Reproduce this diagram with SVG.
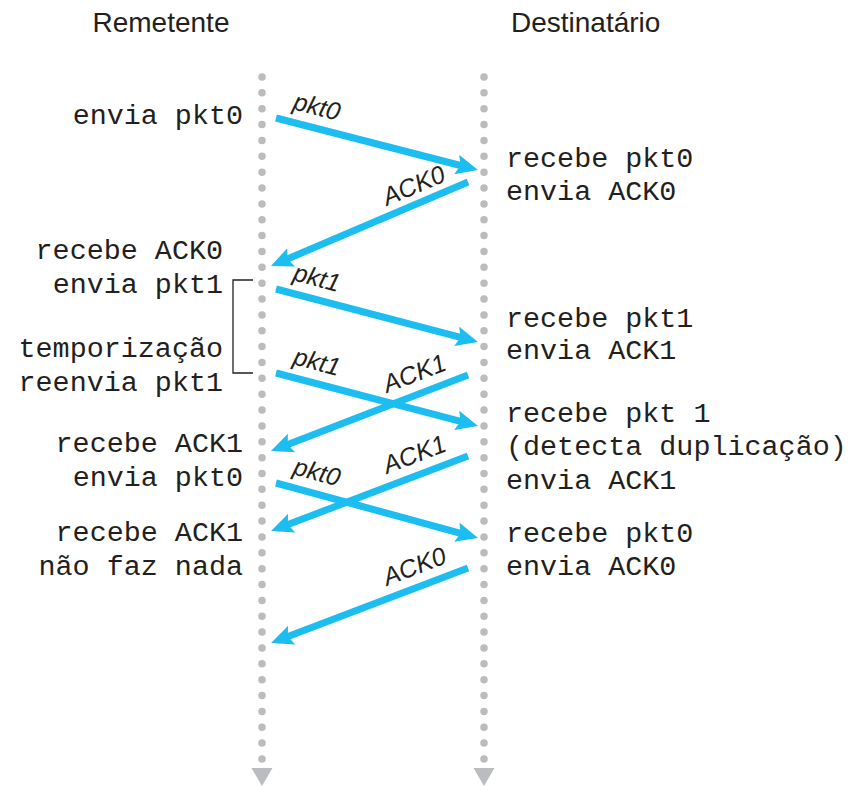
<svg xmlns="http://www.w3.org/2000/svg" width="856" height="787" viewBox="0 0 856 787">
<defs>
<style>
.title{font-family:"Liberation Sans",Arial,sans-serif;font-size:28px;fill:#231f20}
.mono{font-family:"Liberation Mono","Courier New",monospace;font-size:28.4px;fill:#231f20}
.lab{font-family:"Liberation Sans",Arial,sans-serif;font-size:25px;font-style:italic;fill:#231f20}
.life{stroke:#bbbcbf;stroke-width:7.5;stroke-linecap:round;stroke-dasharray:0 15.86;fill:none}
.tri{fill:#bbbcbf}
.arr{stroke:#1cbdf0;stroke-width:7;fill:none;marker-end:url(#ah)}
.br{stroke:#231f20;stroke-width:1.3;fill:none}
</style>
<marker id="ah" markerUnits="userSpaceOnUse" markerWidth="22" markerHeight="20" viewBox="0 0 22 20" refX="6" refY="10" orient="auto">
<path d="M0,0 L22,10 L0,20 L4,10 z" fill="#1cbdf0"/>
</marker>
</defs>
<rect width="856" height="787" fill="#ffffff"/>
<g id="remetente">
<text class="title" x="92.5" y="32">Remetente</text>
<line class="life" x1="262" y1="77" x2="262" y2="759"/>
<polygon class="tri" points="251.5,768 272.5,768 262,786"/>
<text class="mono" text-anchor="end" x="243" y="124">envia pkt0</text>
<text class="mono" text-anchor="end" x="223" y="259">recebe ACK0</text>
<text class="mono" text-anchor="end" x="223" y="293">envia pkt1</text>
<text class="mono" text-anchor="end" x="223" y="357">temporização</text>
<text class="mono" text-anchor="end" x="223" y="391">reenvia pkt1</text>
<text class="mono" text-anchor="end" x="243" y="452">recebe ACK1</text>
<text class="mono" text-anchor="end" x="243" y="486">envia pkt0</text>
<text class="mono" text-anchor="end" x="243" y="541">recebe ACK1</text>
<text class="mono" text-anchor="end" x="243" y="575">não faz nada</text>
</g>
<g id="temporizador">
<polyline class="br" points="253,280 233,280 233,373 253,373"/>
</g>
<g id="destinatario">
<text class="title" x="511" y="32">Destinatário</text>
<line class="life" x1="484" y1="77" x2="484" y2="759"/>
<polygon class="tri" points="473.5,768 494.5,768 484,786"/>
<text class="mono" x="506" y="167">recebe pkt0</text>
<text class="mono" x="506" y="200">envia ACK0</text>
<text class="mono" x="506" y="327">recebe pkt1</text>
<text class="mono" x="506" y="359">envia ACK1</text>
<text class="mono" x="506" y="422">recebe pkt 1</text>
<text class="mono" x="506" y="455">(detecta duplicação)</text>
<text class="mono" x="506" y="489">envia ACK1</text>
<text class="mono" x="506" y="542">recebe pkt0</text>
<text class="mono" x="506" y="575">envia ACK0</text>
</g>
<g id="connectors">
<line class="arr" x1="276" y1="118" x2="462.5" y2="166"/>
<line class="arr" x1="468" y1="182" x2="285.7" y2="259.7"/>
<line class="arr" x1="276" y1="289" x2="462.5" y2="337.9"/>
<line class="arr" x1="276" y1="373" x2="462.5" y2="421.9"/>
<line class="arr" x1="468" y1="375" x2="285.9" y2="445.2"/>
<line class="arr" x1="468" y1="456" x2="286" y2="525.3"/>
<line class="arr" x1="276" y1="483" x2="462.6" y2="533.8"/>
<line class="arr" x1="468" y1="568" x2="286" y2="637.3"/>
<text class="lab" transform="translate(292,109) rotate(14.4)">pkt0</text>
<text class="lab" transform="translate(387,206) rotate(-23)">ACK0</text>
<text class="lab" transform="translate(292,280) rotate(14.7)">pkt1</text>
<text class="lab" transform="translate(292,364) rotate(14.7)">pkt1</text>
<text class="lab" transform="translate(387,393) rotate(-21)">ACK1</text>
<text class="lab" transform="translate(387,474) rotate(-21)">ACK1</text>
<text class="lab" transform="translate(292,474) rotate(15.2)">pkt0</text>
<text class="lab" transform="translate(387,586) rotate(-21)">ACK0</text>
</g>
</svg>
